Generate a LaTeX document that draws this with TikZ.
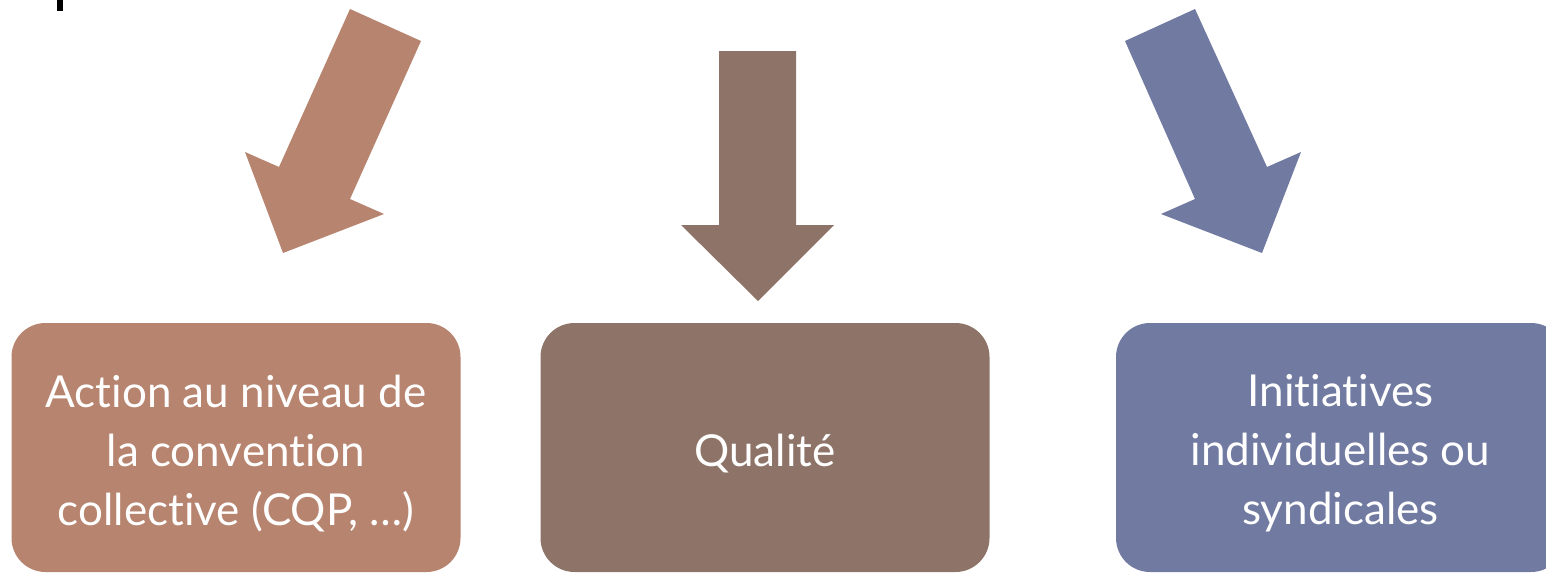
\documentclass[tikz,border=0pt]{standalone}
\usepackage{fontspec}
\setmainfont{Lato}[Ligatures=NoCommon]
\usepackage{tikz}
\definecolor{terre}{HTML}{B7846F}
\definecolor{taupe}{HTML}{8E7468}
\definecolor{ardoise}{HTML}{717AA0}
\tikzset{
   boite/.style={rounded corners=34pt, minimum width=449pt, minimum height=249pt,
      inner sep=0pt, text=white, align=center, font=\fontsize{44}{59}\selectfont},
}
\newcommand{\bas}[1]{\raisebox{-6pt}[\height][\depth]{#1}}

\begin{document}
\begin{tikzpicture}[x=1pt,y=-1pt]
   \useasboundingbox (0,0) rectangle (1546,573);
   \clip (0,0) rectangle (1546,573);
   %trait
   \fill[black] (57,0) rectangle (63,11);
   %fleches
   \fill[terre] (350,9) -- (421,41) -- (350,199) -- (384,214) -- (283,253)
      -- (245,152) -- (279,167) -- cycle;
   \fill[taupe] (719,51) -- (796,51) -- (796,225) -- (834,225) -- (758,301)
      -- (681,225) -- (719,225) -- cycle;
   \fill[ardoise] (1195,9) -- (1125,41) -- (1195,199) -- (1161,214) -- (1262,253)
      -- (1301,152) -- (1267,167) -- cycle;
   %boites
   \node[boite,fill=terre] (action) at (236,447.5)
      {\bas{\parbox{449pt}{\centering Action au niveau de\\la convention\\collective (CQP, \dots)}}};
   \node[boite,fill=taupe] (qualite) at (765,447.5) {\bas{Qualité}};
   \node[boite,fill=ardoise] (initiatives) at (1340.5,447.5)
      {\bas{\parbox{449pt}{\centering Initiatives\\individuelles ou\\syndicales}}};
\end{tikzpicture}
\end{document}
